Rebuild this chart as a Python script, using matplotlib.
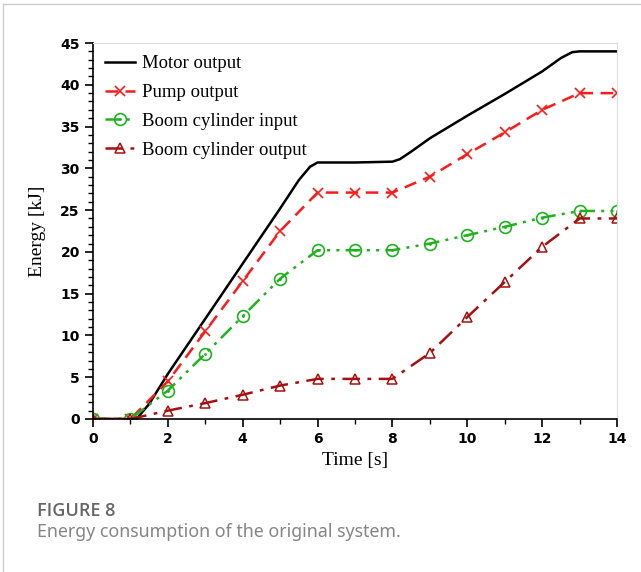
import numpy as np
import matplotlib.pyplot as plt
from matplotlib.ticker import MultipleLocator
from matplotlib.lines import Line2D

# motor output (no markers)
t_motor = [0, 1, 1.2, 1.5, 2, 3, 4, 5, 5.5, 5.8, 6, 7, 8, 8.2, 8.5, 9, 10, 11, 12, 12.5, 12.8, 13, 14]
e_motor = [0, 0, 0.2, 1.8, 5.4, 12.0, 18.6, 25.2, 28.6, 30.2, 30.7, 30.7, 30.8, 31.1, 32.0, 33.6, 36.3, 38.9, 41.6, 43.2, 43.9, 44.0, 44.0]

t = np.arange(0, 15)
pump = [0, 0, 4.5, 10.5, 16.5, 22.5, 27.1, 27.1, 27.1, 29.0, 31.7, 34.3, 37.0, 39.0, 39.0]
boom_in = [0, 0, 3.4, 7.8, 12.3, 16.8, 20.2, 20.2, 20.2, 21.0, 22.0, 23.0, 24.1, 24.9, 24.9]
boom_out = [0, 0, 1.0, 1.9, 2.9, 4.0, 4.8, 4.8, 4.8, 7.9, 12.2, 16.4, 20.6, 24.0, 24.0]

green_ls = (0, (6, 2.5, 1.2, 2.5, 1.2, 2.5))

fig = plt.figure(figsize=(6.41, 5.72), dpi=100)
ax = fig.add_axes([0.1451, 0.2675, 0.8175, 0.6573])

ax.plot(t_motor, e_motor, color='black', lw=1.8, label='Motor output')
ax.plot(t, pump, color='#ff1a1a', lw=1.8, ls=(0, (5, 3)), marker='x', ms=6.5, mew=1.2,
        label='Pump output')
ax.plot(t, boom_in, color='#1fb21f', lw=1.8, ls=green_ls,
        marker='o', ms=8.5, mfc='none', mew=1.2, label='Boom cylinder input')
ax.plot(t, boom_in, ls='none', marker='.', ms=2, color='#1fb21f')
ax.plot(t, boom_out, color='#a80f0f', lw=1.8, ls=(0, (7, 3, 1.5, 3)),
        marker='^', ms=7.5, mfc='none', mew=1.1, label='Boom cylinder output')

ax.set_xlim(0, 14)
ax.set_ylim(0, 45)
ax.xaxis.set_major_locator(MultipleLocator(2))
ax.xaxis.set_minor_locator(MultipleLocator(1))
ax.yaxis.set_major_locator(MultipleLocator(5))
ax.yaxis.set_minor_locator(MultipleLocator(1))
ax.tick_params(which='major', direction='out', length=6, width=1.2, labelsize=10)
ax.tick_params(which='minor', direction='out', length=3.5, width=1)
for lab in ax.get_xticklabels() + ax.get_yticklabels():
    lab.set_fontweight('bold')
    lab.set_family('DejaVu Sans')
ax.spines['left'].set_linewidth(1.2)
ax.spines['bottom'].set_linewidth(1.2)
ax.spines['top'].set_color('#dddddd')
ax.spines['right'].set_color('#dddddd')

ax.set_xlabel('Time [s]', family='Liberation Serif', fontsize=14, labelpad=4)
ax.set_ylabel('Energy [kJ]', family='Liberation Serif', fontsize=14, labelpad=10)

green_h = (Line2D([], [], color='#1fb21f', lw=1.8, ls=green_ls,
                  marker='o', ms=8.5, mfc='none', mew=1.2),
           Line2D([], [], ls='none', marker='.', ms=2, color='#1fb21f'))
handles, labels = ax.get_legend_handles_labels()
handles[2] = green_h
ax.legend(handles, labels, loc='upper left', frameon=False,
          prop={'family': 'Liberation Serif', 'size': 13.5}, handlelength=1.6,
          labelspacing=0.62, borderaxespad=0.25, handletextpad=0.35,
          bbox_to_anchor=(0.0, 1.0))

# page frame and caption
fig.add_artist(Line2D([0.005, 0.005], [0, 0.993], color='#cccccc', lw=1, transform=fig.transFigure))
fig.add_artist(Line2D([0.005, 1.0], [0.993, 0.993], color='#cccccc', lw=1, transform=fig.transFigure))
fig.text(0.057, 0.098, 'FIGURE 8', family='Open Sans', fontsize=13, color='#666666',
         fontweight='semibold')
fig.text(0.057, 0.061, 'Energy consumption of the original system.', family='Noto Sans',
         fontsize=12.8, color='#858585')

fig.savefig('out.png', dpi=100)
